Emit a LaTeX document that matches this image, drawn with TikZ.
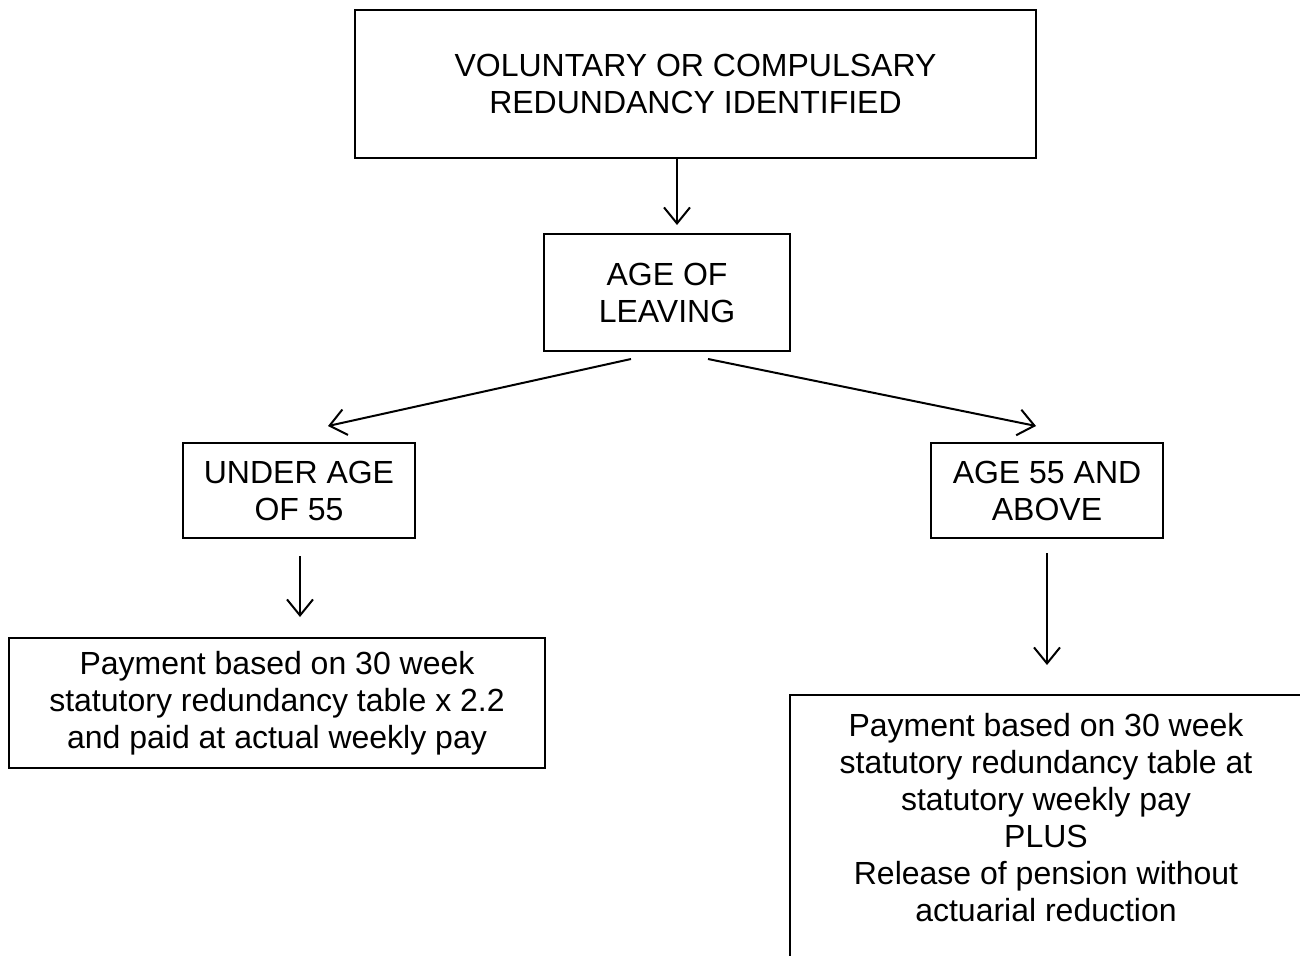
\documentclass[tikz,border=0pt]{standalone}
\usepackage{fontspec}
\setmainfont{Liberation Sans}
\usetikzlibrary{arrows.meta,calc}
\begin{document}
\begin{tikzpicture}[x=1pt,y=-1pt,line width=2pt,
  box/.style={draw,line width=2pt,align=center,inner sep=0pt,font=\fontsize{32}{37}\selectfont},
  txt/.style={align=center,inner sep=0pt,font=\fontsize{32}{37}\selectfont},
  arr/.style={-{Straight Barb[length=16pt,width=26pt,line width=2pt]}}]
\useasboundingbox (0,0) rectangle (1300,955);
\clip (0,0) rectangle (1300,955);
\node[box,minimum width=681pt,minimum height=148pt] (b1) at (695.5,84) {VOLUNTARY OR COMPULSARY\\REDUNDANCY IDENTIFIED};
\node[box,minimum width=246pt,minimum height=117pt] (b2) at (667,292.5) {AGE OF\\LEAVING};
\node[box,minimum width=232pt,minimum height=95pt] (b3) at (299,490.5) {UNDER AGE\\OF 55};
\node[box,minimum width=232pt,minimum height=95pt] (b4) at (1047,490.5) {AGE 55 AND\\ABOVE};
\node[box,minimum width=536pt,minimum height=130pt] (b5) at (277,703) {Payment based on 30 week\\statutory redundancy table x 2.2\\and paid at actual weekly pay};
\node[draw,line width=2pt,minimum width=512pt,minimum height=290pt,anchor=north west,inner sep=0pt,outer sep=0pt] (b6) at (790,695) {};
\node[txt] (t6) at (1046,818) {Payment based on 30 week\\statutory redundancy table at\\statutory weekly pay\\PLUS\\Release of pension without\\actuarial reduction};
\coordinate (a1s) at ($(b1.south)+(-18.5,0)$);
\coordinate (a4s) at ($(b3.south)+(1,17)$);
\coordinate (a5s) at ($(b4.south)+(0,14)$);
\draw[arr] (a1s) -- ($(a1s |- b2.north)+(0,-8)$);
\draw[arr] ($(b2.south)+(-36,7)$) -- ($(b3.north)+(29,-16)$);
\draw[arr] ($(b2.south)+(41,7)$) -- ($(b4.north)+(-11,-16)$);
\draw[arr] (a4s) -- ($(a4s |- b5.north)+(0,-20)$);
\draw[arr] (a5s) -- ($(a5s |- b6.north)+(0,-30)$);
\end{tikzpicture}
\end{document}
